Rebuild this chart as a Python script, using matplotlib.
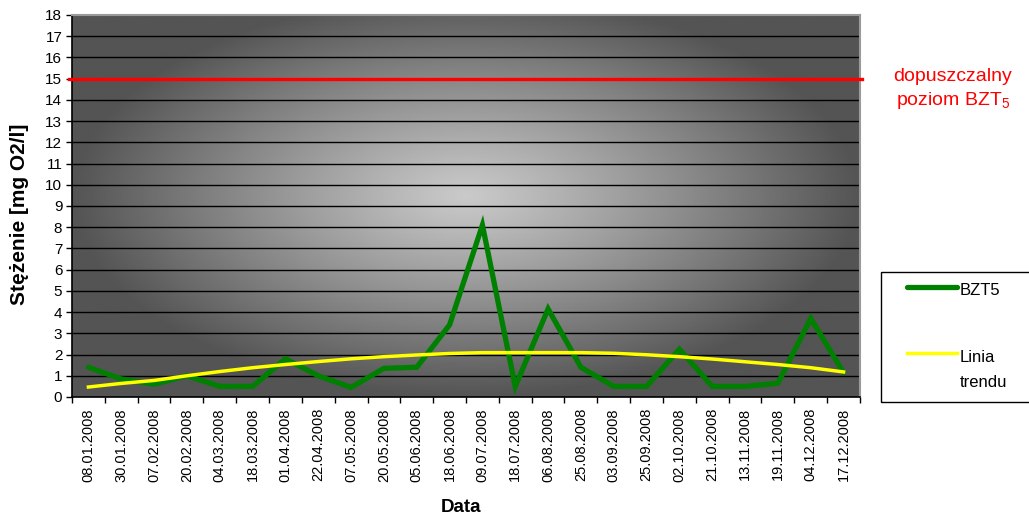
import numpy as np
import matplotlib
matplotlib.use("Agg")
import matplotlib.pyplot as plt
from matplotlib.patches import Rectangle
from matplotlib.lines import Line2D

plt.rcParams['font.family'] = ['Liberation Sans', 'DejaVu Sans']
plt.rcParams['mathtext.default'] = 'regular'

dates = ["08.01.2008", "30.01.2008", "07.02.2008", "20.02.2008", "04.03.2008",
         "18.03.2008", "01.04.2008", "22.04.2008", "07.05.2008", "20.05.2008",
         "05.06.2008", "18.06.2008", "09.07.2008", "18.07.2008", "06.08.2008",
         "25.08.2008", "03.09.2008", "25.09.2008", "02.10.2008", "21.10.2008",
         "13.11.2008", "19.11.2008", "04.12.2008", "17.12.2008"]
bzt5 = [1.4, 0.85, 0.6, 1.0, 0.5, 0.5, 1.8, 1.0, 0.45, 1.35, 1.4, 3.4,
        8.1, 0.5, 4.15, 1.4, 0.5, 0.5, 2.25, 0.5, 0.5, 0.65, 3.7, 1.15]
trend = [0.47, 0.64, 0.78, 1.0, 1.2, 1.38, 1.53, 1.67, 1.8, 1.9, 1.98, 2.05,
         2.09, 2.09, 2.09, 2.09, 2.06, 1.99, 1.9, 1.79, 1.66, 1.53, 1.38, 1.18]
limit = 15
yticks = list(range(0, 19))

W, H = 1029, 519
fig = plt.figure(figsize=(W / 100, H / 100), dpi=100)
ax = fig.add_axes([72 / W, 1 - 397 / H, (860 - 72) / W, (397 - 15) / H])

# radial gradient background
gx, gy = np.meshgrid(np.linspace(-1, 1, 400), np.linspace(-1, 1, 300))
d = np.sqrt((gx / 1.0) ** 2 + ((gy + 0.05) / 1.05) ** 2)
d = np.clip(d, 0, 1) ** 1.1
light, dark = 0.79, 0.33
img = light * (1 - d) + dark * d
ax.imshow(img, cmap='gray', vmin=0, vmax=1, extent=[0, 1, 0, 1],
          transform=ax.transAxes, aspect='auto', zorder=0, interpolation='bilinear')

x = np.arange(len(dates))
ax.set_xlim(-0.5, len(dates) - 0.5)
ax.set_ylim(0, 18)

for v in yticks[1:-1]:
    ax.axhline(v, color='black', lw=1.0, zorder=1)

ax.plot(x, bzt5, color='#008000', lw=3.8, zorder=3, solid_capstyle='round',
        solid_joinstyle='miter')
ax.plot(x, trend, color='#ffff00', lw=2.5, zorder=4)
ax.plot([-0.6, len(dates) - 0.45], [limit, limit], color='#ff0000', lw=2.4,
        zorder=5, clip_on=False)

ax.set_yticks(yticks)
ax.set_yticklabels([str(v) for v in yticks], fontsize=11)
ax.set_xticks(x)
ax.set_xticklabels(dates, rotation=90, fontsize=10.5)
ax.set_xticks(np.arange(-0.5, len(dates)), minor=True)
ax.tick_params(axis='x', which='major', length=0, pad=8)
ax.tick_params(axis='x', which='minor', length=4, width=1, direction='out')
ax.tick_params(axis='y', length=4, width=1, direction='out', pad=3)

for s in ['left', 'bottom']:
    ax.spines[s].set_color('black')
    ax.spines[s].set_linewidth(1.2)
for s in ['right', 'top']:
    ax.spines[s].set_color('#9a9a9a')
    ax.spines[s].set_linewidth(1.5)

fig.text(20 / W, 1 - 214 / H, 'Stężenie [mg O2/l]', fontsize=15,
         fontweight='bold', rotation=90, ha='center', va='center')
fig.text(461 / W, 1 - 507 / H, 'Data', fontsize=13.5, fontweight='bold',
         ha='center', va='center')

fig.text(953 / W, 1 - 81 / H, 'dopuszczalny', color='#ff0000', fontsize=14,
         ha='center', va='baseline')
fig.text(953 / W, 1 - 105 / H, r'poziom BZT$_{5}$', color='#ff0000', fontsize=14,
         ha='center', va='baseline')

# legend
fig.patches.append(Rectangle((881 / W, 1 - 402 / H), 160 / W, 130 / H,
                             transform=fig.transFigure, fill=False,
                             edgecolor='black', lw=1.0))
fig.lines.append(Line2D([907 / W, 957 / W], [1 - 287 / H] * 2, color='#008000',
                        lw=3.8, solid_capstyle='round', transform=fig.transFigure))
fig.lines.append(Line2D([907 / W, 957 / W], [1 - 353 / H] * 2, color='#ffff00',
                        lw=2.5, transform=fig.transFigure))
fig.text(960 / W, 1 - 295 / H, 'BZT5', fontsize=12, ha='left', va='baseline')
fig.text(960 / W, 1 - 362 / H, 'Linia', fontsize=12, ha='left', va='baseline')
fig.text(960 / W, 1 - 387 / H, 'trendu', fontsize=12, ha='left', va='baseline')

fig.savefig('out.png', dpi=100)
